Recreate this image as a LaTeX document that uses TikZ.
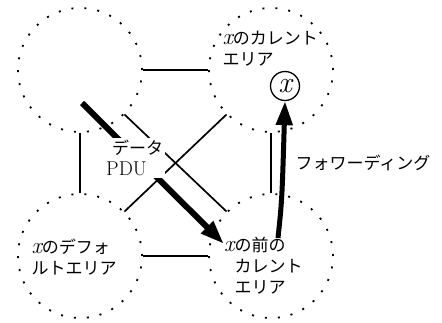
\documentclass[tikz,border=0pt]{standalone}
\usepackage{fontspec}
\newfontfamily\jpfont{Noto Sans CJK JP}
\usetikzlibrary{arrows.meta,positioning}
\newcommand{\vx}{{\rmfamily\itshape\fontsize{23}{21}\selectfont x}}

\begin{document}
\begin{tikzpicture}[x=1pt,y=-1pt,
  every node/.style={font=\fontsize{17}{21}\selectfont\jpfont},
  area/.style={circle,draw,minimum size=124pt,inner sep=0pt,line width=1.8pt,
    dash pattern=on 2pt off 11pt},
  link/.style={line width=2.6pt},
  thinlink/.style={line width=1.7pt},
  bigarrow/.style={line width=6pt,-{Triangle[length=24pt,width=16pt]}}]
  \useasboundingbox (0,0) rectangle (442,323);
  % the four areas
  \foreach \n/\p in {TL/{80,70},TR/{271,70},BL/{80,256},BR/{271,256}}
    \node[area] (\n) at (\p) {};
  \foreach \a/\b in {TL.east/TR.west,BL.east/BR.west,TL.south/BL.north,TR.south/BR.north}
    \draw[link] (\a) -- (\b);
  \draw[thinlink] (TL.south east) -- (BR.north west);
  \draw[thinlink] (TR.south west) -- (BL.north east);
  % data PDU
  \coordinate (pduS) at (82,103);
  \coordinate (pduE) at (224,244);
  \draw[bigarrow] (pduS) -- (pduE);
  \node[fill=white,align=left,anchor=north west,inner sep=2pt] (pdu) at (104,138)
    {\hspace{6pt}データ\\{\rmfamily\fontsize{20}{21}\selectfont PDU}};
  % x and forwarding
  \node[circle,draw,line width=1.3pt,minimum size=29pt,inner sep=0pt,
    font=\rmfamily\itshape\fontsize{30}{30}\selectfont] (xn) at (285,86) {x};
  \coordinate (fwS) at (278,238);
  \draw[bigarrow,line width=5pt] (fwS) .. controls (282,200) .. (xn.south);
  \node[anchor=west] (fw) at (292,163) {フォワーディング};
  % area labels
  \node[align=left,anchor=north west] (lTR) at (219,28) {\vx のカレント\\エリア};
  \node[align=left,anchor=north west] (lBL) at (28,235) {\vx のデフォ\\ルトエリア};
  \node[align=left,anchor=north west] (lBR) at (231,234) {\llap{\vx}の前の\\カレント\\エリア};
\end{tikzpicture}
\end{document}
